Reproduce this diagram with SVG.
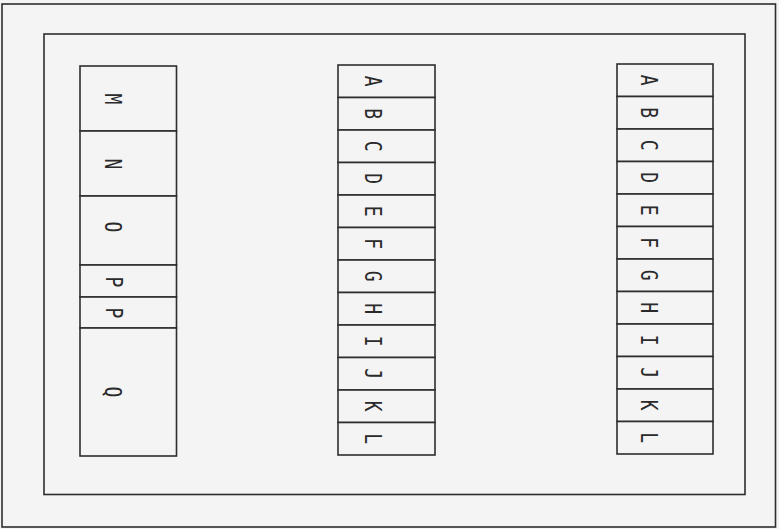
<svg xmlns="http://www.w3.org/2000/svg" width="779" height="529" viewBox="0 0 779 529">
<style>
.frame{fill:none;stroke:#2e2e2e;stroke-width:1.6}
.cell{fill:#f4f4f4;stroke:#2e2e2e;stroke-width:1.6}
.lbl{font-family:"DejaVu Sans Mono","Liberation Mono",monospace;font-size:18px;fill:#2a2a2a;text-anchor:middle;dominant-baseline:central}
</style>
<rect width="779" height="529" fill="#f4f4f4"/>
<g id="outer-frame"><rect class="frame" x="2" y="4" width="773.5" height="523"/></g>
<g id="inner-frame"><rect class="frame" x="44" y="34" width="701" height="460.5"/></g>
<g id="left-column">
<g id="n-M"><rect class="cell" x="80" y="66" width="96.5" height="65"/><text class="lbl" transform="translate(113,99) rotate(90) scale(1,1.3)">M</text></g>
<g id="n-N"><rect class="cell" x="80" y="131" width="96.5" height="65"/><text class="lbl" transform="translate(113,164) rotate(90) scale(1,1.3)">N</text></g>
<g id="n-O"><rect class="cell" x="80" y="196" width="96.5" height="69"/><text class="lbl" transform="translate(113,227) rotate(90) scale(1,1.3)">O</text></g>
<g id="n-P1"><rect class="cell" x="80" y="265" width="96.5" height="32"/><text class="lbl" transform="translate(114,282) rotate(90) scale(1,1.3)">P</text></g>
<g id="n-P2"><rect class="cell" x="80" y="297" width="96.5" height="31"/><text class="lbl" transform="translate(114,313) rotate(90) scale(1,1.3)">P</text></g>
<g id="n-Q"><rect class="cell" x="80" y="328" width="96.5" height="128"/><text class="lbl" transform="translate(113,392) rotate(90) scale(1,1.3)">Q</text></g>
</g>
<g id="middle-column">
<g id="m-A"><rect class="cell" x="338" y="65" width="97" height="32.5"/><text class="lbl" transform="translate(373,81.25) rotate(90) scale(1,1.3)">A</text></g>
<g id="m-B"><rect class="cell" x="338" y="97.5" width="97" height="32.5"/><text class="lbl" transform="translate(373,113.75) rotate(90) scale(1,1.3)">B</text></g>
<g id="m-C"><rect class="cell" x="338" y="130" width="97" height="32.5"/><text class="lbl" transform="translate(373,146.25) rotate(90) scale(1,1.3)">C</text></g>
<g id="m-D"><rect class="cell" x="338" y="162.5" width="97" height="32.5"/><text class="lbl" transform="translate(373,178.75) rotate(90) scale(1,1.3)">D</text></g>
<g id="m-E"><rect class="cell" x="338" y="195" width="97" height="32.5"/><text class="lbl" transform="translate(373,211.25) rotate(90) scale(1,1.3)">E</text></g>
<g id="m-F"><rect class="cell" x="338" y="227.5" width="97" height="32.5"/><text class="lbl" transform="translate(373,243.75) rotate(90) scale(1,1.3)">F</text></g>
<g id="m-G"><rect class="cell" x="338" y="260" width="97" height="32.5"/><text class="lbl" transform="translate(373,276.25) rotate(90) scale(1,1.3)">G</text></g>
<g id="m-H"><rect class="cell" x="338" y="292.5" width="97" height="32.5"/><text class="lbl" transform="translate(373,308.75) rotate(90) scale(1,1.3)">H</text></g>
<g id="m-I"><rect class="cell" x="338" y="325" width="97" height="32.5"/><text class="lbl" transform="translate(373,341.25) rotate(90) scale(1,1.3)">I</text></g>
<g id="m-J"><rect class="cell" x="338" y="357.5" width="97" height="32.5"/><text class="lbl" transform="translate(373,373.75) rotate(90) scale(1,1.3)">J</text></g>
<g id="m-K"><rect class="cell" x="338" y="390" width="97" height="32.5"/><text class="lbl" transform="translate(373,406.25) rotate(90) scale(1,1.3)">K</text></g>
<g id="m-L"><rect class="cell" x="338" y="422.5" width="97" height="32.5"/><text class="lbl" transform="translate(373,438.75) rotate(90) scale(1,1.3)">L</text></g>
</g>
<g id="right-column">
<g id="r-A"><rect class="cell" x="617" y="64" width="96" height="32.5"/><text class="lbl" transform="translate(649,80.25) rotate(90) scale(1,1.3)">A</text></g>
<g id="r-B"><rect class="cell" x="617" y="96.5" width="96" height="32.5"/><text class="lbl" transform="translate(649,112.75) rotate(90) scale(1,1.3)">B</text></g>
<g id="r-C"><rect class="cell" x="617" y="129" width="96" height="32.5"/><text class="lbl" transform="translate(649,145.25) rotate(90) scale(1,1.3)">C</text></g>
<g id="r-D"><rect class="cell" x="617" y="161.5" width="96" height="32.5"/><text class="lbl" transform="translate(649,177.75) rotate(90) scale(1,1.3)">D</text></g>
<g id="r-E"><rect class="cell" x="617" y="194" width="96" height="32.5"/><text class="lbl" transform="translate(649,210.25) rotate(90) scale(1,1.3)">E</text></g>
<g id="r-F"><rect class="cell" x="617" y="226.5" width="96" height="32.5"/><text class="lbl" transform="translate(649,242.75) rotate(90) scale(1,1.3)">F</text></g>
<g id="r-G"><rect class="cell" x="617" y="259" width="96" height="32.5"/><text class="lbl" transform="translate(649,275.25) rotate(90) scale(1,1.3)">G</text></g>
<g id="r-H"><rect class="cell" x="617" y="291.5" width="96" height="32.5"/><text class="lbl" transform="translate(649,307.75) rotate(90) scale(1,1.3)">H</text></g>
<g id="r-I"><rect class="cell" x="617" y="324" width="96" height="32.5"/><text class="lbl" transform="translate(649,340.25) rotate(90) scale(1,1.3)">I</text></g>
<g id="r-J"><rect class="cell" x="617" y="356.5" width="96" height="32.5"/><text class="lbl" transform="translate(649,372.75) rotate(90) scale(1,1.3)">J</text></g>
<g id="r-K"><rect class="cell" x="617" y="389" width="96" height="32.5"/><text class="lbl" transform="translate(649,405.25) rotate(90) scale(1,1.3)">K</text></g>
<g id="r-L"><rect class="cell" x="617" y="421.5" width="96" height="32.5"/><text class="lbl" transform="translate(649,437.75) rotate(90) scale(1,1.3)">L</text></g>
</g>
<g id="connectors"/>
</svg>
